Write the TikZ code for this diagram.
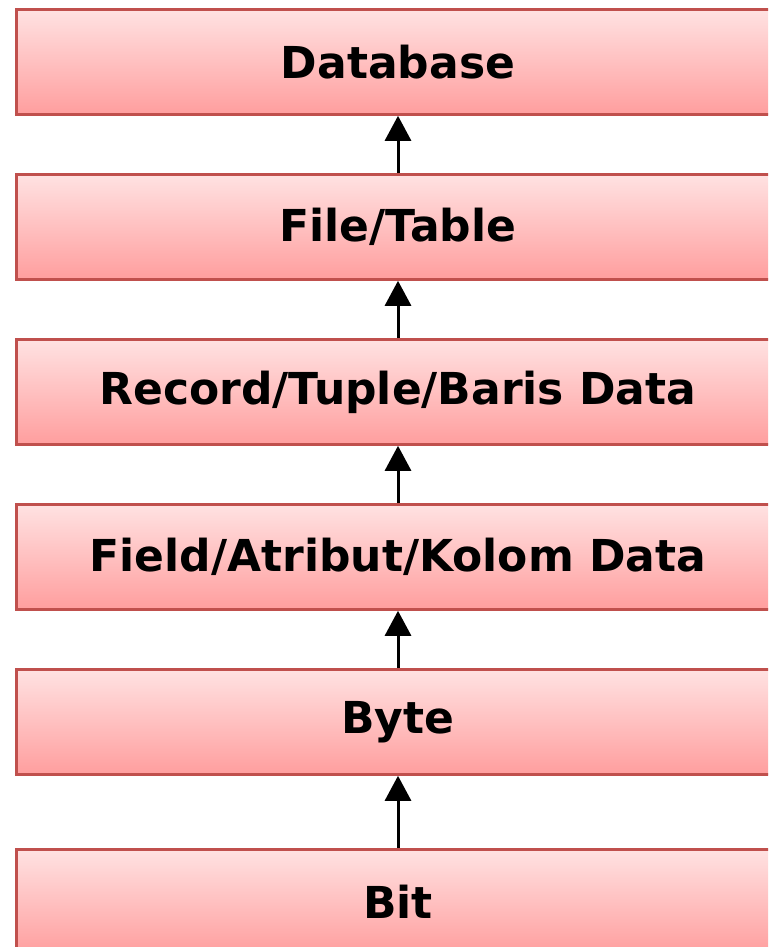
\documentclass[tikz,border=0pt]{standalone}
\usepackage{fontspec}
\setmainfont{DejaVu Sans}
\usetikzlibrary{arrows.meta}
\definecolor{bordercol}{HTML}{C0504D}
\definecolor{gtop}{HTML}{FFE2E2}
\definecolor{gbot}{HTML}{FF9E9E}
\tikzset{
  levelbox/.style={draw=bordercol, line width=2.8pt, top color=gtop, bottom color=gbot,
    minimum width=766pt, minimum height=105pt, inner sep=0pt, anchor=north west},
  leveltext/.style={font=\bfseries\fontsize{44}{46}\selectfont, text=black},
  uparrow/.style={line width=3pt, -{Triangle[width=26pt,length=25pt]}}
}
\begin{document}
\begin{tikzpicture}[x=1pt,y=-1pt]
\useasboundingbox (0,0) rectangle (768,947);
\clip (0,0) rectangle (768,947);
\node[levelbox] (db) at (15,8) {};
\node[levelbox] (ft) at (15,173) {};
\node[levelbox] (rec) at (15,338) {};
\node[levelbox] (fld) at (15,503) {};
\node[levelbox] (byte) at (15,668) {};
\node[levelbox] (bit) at (15,848) {};
\node[leveltext] (tdb) at (398,62) {Database};
\node[leveltext] (tft) at (398,227) {File/Table};
\node[leveltext] (trec) at (398,392) {Record/Tuple/Baris Data};
\node[leveltext] (tfld) at (398,557) {Field/Atribut/Kolom Data};
\node[leveltext] (tbyte) at (398,722) {Byte};
\node[leveltext] (tbit) at (398,902) {Bit};
\draw[uparrow] (ft.north -| tdb) -- (db.south -| tdb);
\draw[uparrow] (rec.north -| tdb) -- (ft.south -| tdb);
\draw[uparrow] (fld.north -| tdb) -- (rec.south -| tdb);
\draw[uparrow] (byte.north -| tdb) -- (fld.south -| tdb);
\draw[uparrow] (bit.north -| tdb) -- (byte.south -| tdb);
\end{tikzpicture}
\end{document}
